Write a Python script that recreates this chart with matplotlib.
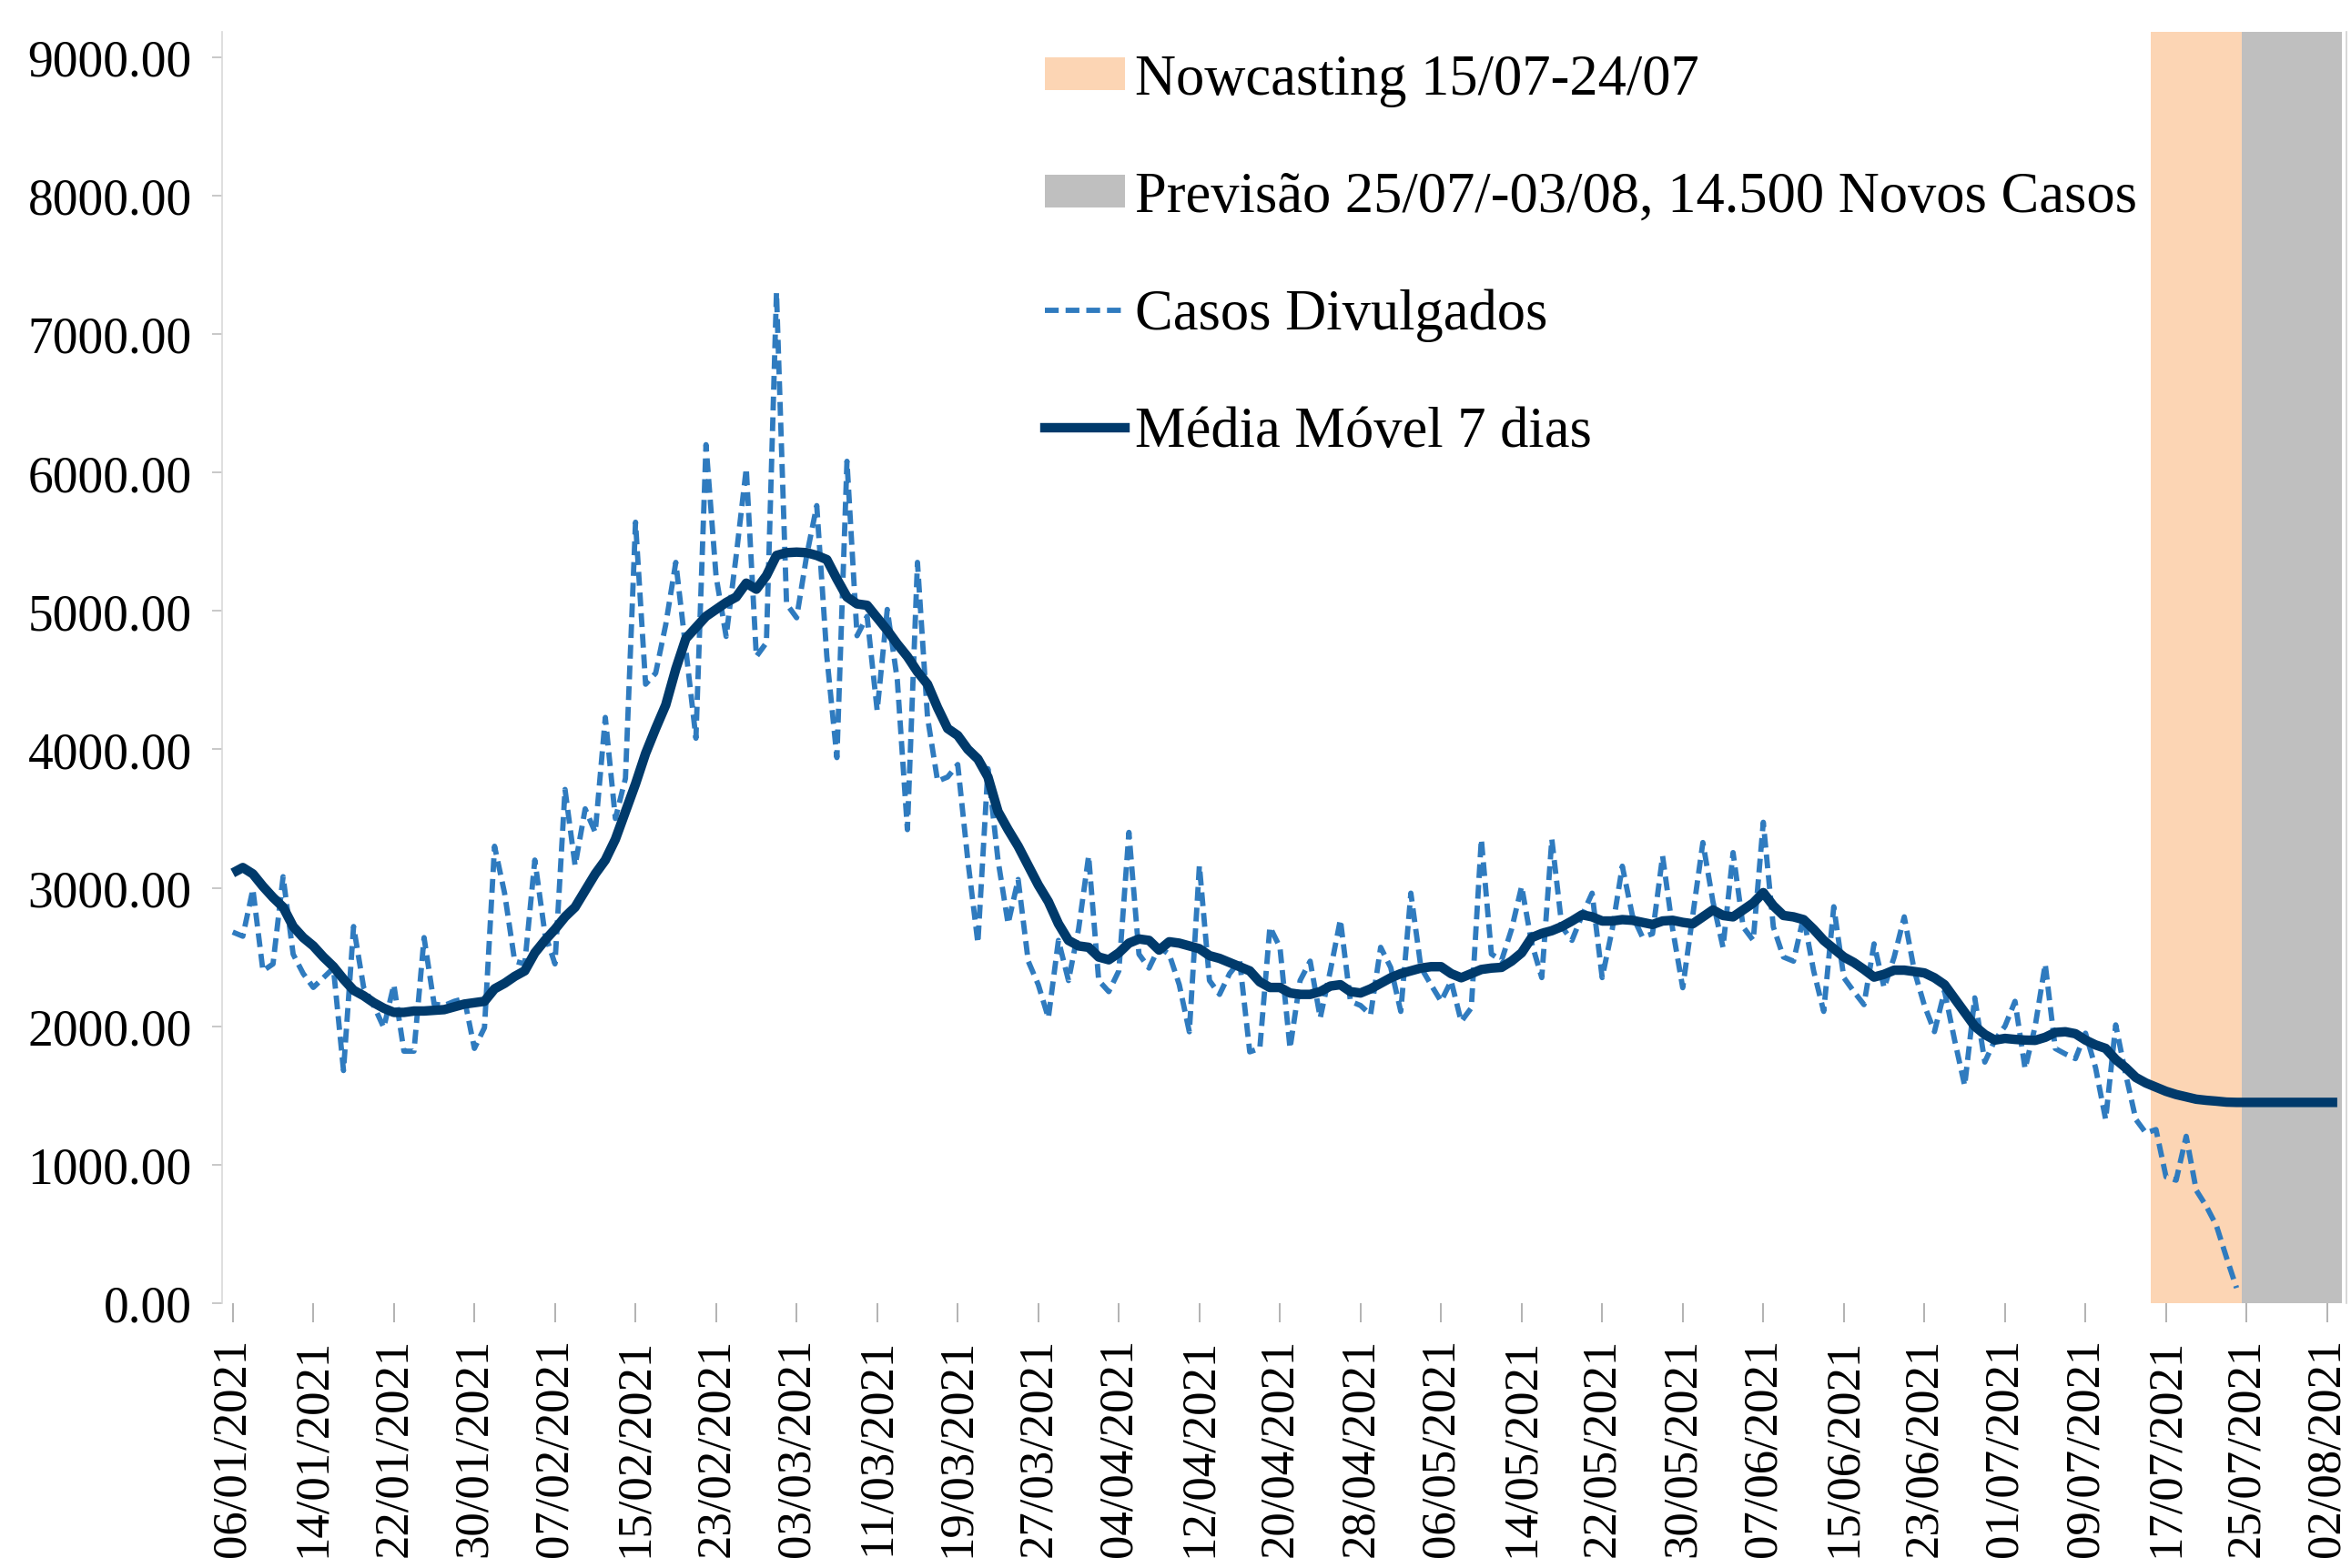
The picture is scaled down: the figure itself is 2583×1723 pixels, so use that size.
import pandas as pd
import matplotlib.pyplot as plt
import matplotlib.dates as mdates
from matplotlib.patches import Patch
from matplotlib.lines import Line2D

plt.rcParams["font.family"] = ["Liberation Serif", "DejaVu Serif"]

# Daily series, starting 06/01/2021
start_date = "2021-01-06"

casos = [2680, 2650, 2990, 2400, 2450, 3080, 2520, 2380, 2280, 2350,
         2420, 1680, 2720, 2280, 2150, 1990, 2300, 1820, 1820, 2640,
         2160, 2150, 2180, 2200, 1840, 1990, 3300, 2960, 2470, 2450,
         3200, 2670, 2450, 3710, 3160, 3570, 3400, 4230, 3500, 3790,
         5640, 4470, 4550, 4900, 5350, 4720, 4080, 6200, 5250, 4815,
         5400, 6030, 4670, 4770, 7300, 5050, 4950, 5400, 5760, 4670,
         3940, 6080, 4820, 4960, 4280, 5010, 4500, 3420, 5350, 4230,
         3770, 3800, 3890, 3200, 2600, 3860, 3200, 2740, 3060, 2470,
         2300, 2060, 2620, 2330, 2700, 3230, 2330, 2250, 2400, 3400,
         2520, 2420, 2570, 2520, 2300, 1960, 3160, 2330, 2230, 2380,
         2470, 1815, 1840, 2717, 2570, 1840, 2330, 2470, 2060, 2400,
         2770, 2180, 2150, 2083, 2570, 2424, 2107, 2961, 2424, 2300,
         2180, 2327, 2034, 2132, 3351, 2522, 2473, 2700, 3010, 2600,
         2351, 3351, 2717, 2620, 2800, 2961, 2351, 2700, 3156, 2800,
         2644, 2668, 3229, 2700, 2278, 2800, 3327, 2900, 2570, 3254,
         2717, 2620, 3473, 2717, 2500, 2470, 2790, 2400, 2107, 2863,
         2351, 2250, 2156, 2595, 2278, 2500, 2790, 2400, 2150, 1961,
         2254, 1900, 1571, 2205, 1741, 1900, 2000, 2180, 1693, 2000,
         2449, 1839, 1800, 1766, 1950, 1700, 1327, 2010, 1650, 1327,
         1229, 1254, 912, 888, 1205, 815, 700, 560, 330, 110]

media_movel = [3107, 3146, 3100, 3010, 2930, 2860, 2720, 2640, 2580, 2500,
               2430, 2340, 2260, 2220, 2170, 2130, 2100, 2100, 2110, 2110,
               2115, 2120, 2140, 2160, 2170, 2180, 2270, 2310, 2360, 2400,
               2530, 2620, 2700, 2790, 2860, 2980, 3100, 3200, 3350, 3550,
               3750, 3970, 4150, 4320, 4580, 4800, 4880, 4960, 5010, 5060,
               5100, 5200, 5156, 5254, 5400, 5420, 5424, 5420, 5400, 5370,
               5230, 5100, 5050, 5040, 4950, 4860, 4760, 4670, 4560, 4470,
               4300, 4150, 4100, 4000, 3930, 3800, 3550, 3420, 3300, 3160,
               3020, 2900, 2740, 2620, 2580, 2570, 2500, 2480, 2530, 2600,
               2630, 2620, 2550, 2610, 2600, 2580, 2560, 2510, 2490, 2460,
               2430, 2400, 2320, 2280, 2280, 2240, 2230, 2230, 2250, 2290,
               2300, 2250, 2240, 2270, 2310, 2350, 2380, 2400, 2420, 2430,
               2430, 2380, 2350, 2380, 2410, 2420, 2425, 2470, 2530, 2640,
               2670, 2690, 2720, 2760, 2805, 2790, 2760, 2760, 2770, 2765,
               2750, 2735, 2760, 2765, 2750, 2740, 2790, 2840, 2800, 2790,
               2840, 2890, 2965, 2870, 2800, 2790, 2770, 2700, 2620, 2560,
               2500, 2460, 2410, 2355, 2375, 2405, 2405, 2395, 2385, 2350,
               2300, 2200, 2100, 2000, 1940, 1900, 1912, 1905, 1900, 1898,
               1920, 1955, 1960, 1946, 1900, 1865, 1840, 1760, 1700, 1630,
               1590, 1560, 1530, 1507, 1490, 1473, 1465, 1459, 1452, 1450,
               1450, 1450, 1450, 1450, 1450, 1450, 1450, 1450, 1450, 1450]

nowcast_period = ("2021-07-15", "2021-07-24")
previsao_period = ("2021-07-25", "2021-08-03")
y_ticks = [0, 1000, 2000, 3000, 4000, 5000, 6000, 7000, 8000, 9000]
tick_every_days = 8

labels = ["Nowcasting 15/07-24/07",
          "Previsão 25/07/-03/08, 14.500 Novos Casos",
          "Casos Divulgados",
          "Média Móvel 7 dias"]

dates_casos = pd.date_range(start_date, periods=len(casos), freq="D")
dates_media = pd.date_range(start_date, periods=len(media_movel), freq="D")
half_day = pd.Timedelta(hours=12)

c_orange = "#FCD5B4"
c_gray = "#BFBFBF"
c_dash = "#2F7BBF"
c_ma = "#003A6B"

fig = plt.figure(figsize=(25.83, 17.24), dpi=100)
ax = fig.add_axes([0.0945, 0.1688, 0.9035, 0.8102])

# shaded periods (nowcast band ends where the forecast band starts)
ax.axvspan(pd.Timestamp(nowcast_period[0]) + half_day, pd.Timestamp(previsao_period[0]) - half_day,
           color=c_orange, lw=0, zorder=1)
ax.axvspan(pd.Timestamp(previsao_period[0]) - half_day, pd.Timestamp(previsao_period[1]) + half_day,
           color=c_gray, lw=0, zorder=1)

ax.plot(dates_casos, casos, color=c_dash, lw=4.2, dashes=(2.6, 1.3), zorder=2)
ax.plot(dates_media, media_movel, color=c_ma, lw=7.5, solid_capstyle="butt", zorder=3)

# axes limits and ticks
ax.set_xlim(pd.Timestamp(start_date) - pd.Timedelta(days=1.05),
            pd.Timestamp(previsao_period[1]) + pd.Timedelta(days=0.9))
ax.set_ylim(0, 9180)
ax.set_yticks(y_ticks)
ax.yaxis.set_major_formatter(plt.FuncFormatter(lambda v, p: f"{v:.2f}"))

xticks = pd.date_range(start_date, dates_media[-1], freq=f"{tick_every_days}D")
ax.set_xticks(xticks)
ax.xaxis.set_major_formatter(mdates.DateFormatter("%d/%m/%Y"))
ax.tick_params(axis="x", rotation=90, labelsize=38, length=15, width=1.2,
               color="#A6A6A6", pad=12)
ax.tick_params(axis="y", labelsize=40, length=8, width=1.2, color="#BFBFBF", pad=16)

for side in ["top", "bottom"]:
    ax.spines[side].set_visible(False)
ax.spines["left"].set_color("#D9D9D9")
ax.spines["right"].set_color("#D0D0D0")
ax.spines["left"].set_linewidth(1.2)
ax.spines["right"].set_linewidth(1.2)

handles = [Patch(facecolor=c_orange, edgecolor="none"),
           Patch(facecolor=c_gray, edgecolor="none"),
           Line2D([], [], color=c_dash, lw=4.2, dashes=(2.6, 1.3)),
           Line2D([], [], color=c_ma, lw=7.5)]
fig.legend(handles, labels, loc="upper left", bbox_to_anchor=(0.4445, 0.965),
           frameon=False, fontsize=45, handlelength=1.4, handleheight=0.5,
           handletextpad=0.18, labelspacing=1.13, borderpad=0, borderaxespad=0)

fig.savefig("out.png", dpi=100, facecolor="white")
